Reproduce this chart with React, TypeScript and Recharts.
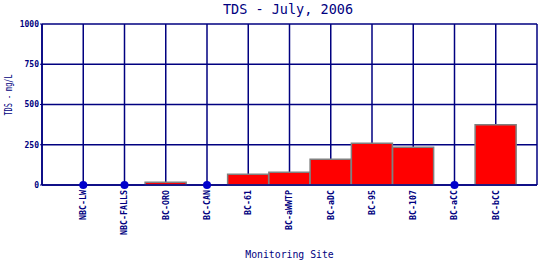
import React from 'react';
import { ComposedChart, Bar, Scatter, XAxis, YAxis, CartesianGrid, Label } from 'recharts';

const sites = ['NBC-LW', 'NBC-FALLS', 'BC-ORO', 'BC-CAN', 'BC-61', 'BC-aWWTP', 'BC-aDC', 'BC-95', 'BC-107', 'BC-aCC', 'BC-bCC'];
const tdsValues: (number | null)[] = [null, null, 17, null, 66, 79, 160, 259, 234, null, 375];
const nonDetects: (number | null)[] = [0, 0, null, 0, null, null, null, null, null, 0, null];
const yTicks = [0, 250, 500, 750, 1000];

const data = sites.map((s, i) => ({ site: s, tds: tdsValues[i], nd: nonDetects[i] }));

const NAVY = '#000080';
const FONT = '"DejaVu Sans Mono", monospace';

const XTick = (props: any) => {
  const { x, y, payload } = props;
  return (
    <text
      x={x}
      y={y}
      transform={`rotate(-90 ${x} ${y})`}
      textAnchor="end"
      dy="0.35em"
      fill={NAVY}
      fontFamily={FONT}
      fontSize={8.3}
      fontWeight="bold"
    >
      {payload.value}
    </text>
  );
};

const YLabel = () => (
  <text
    x={11.5}
    y={95}
    transform="rotate(-90 11.5 95)"
    textAnchor="middle"
    fill={NAVY}
    fontFamily={FONT}
    fontSize={11}
    textLength={41}
    lengthAdjust="spacingAndGlyphs"
  >
    TDS - mg/L
  </text>
);

const Dot = (props: any) => {
  const { cx, cy } = props;
  if (cx == null || cy == null) return null;
  return <circle cx={cx} cy={cy} r={4} fill="#0000CC" />;
};

export default function App() {
  return (
    <div style={{ position: 'absolute', left: 0, top: 0, width: 540, height: 260 }}>
      <div
        style={{
          position: 'absolute',
          left: 0,
          top: 1,
          width: 576,
          textAlign: 'center',
          fontFamily: FONT,
          fontSize: 13.5,
          color: NAVY,
          lineHeight: '16px',
        }}
      >
        TDS - July, 2006
      </div>
      <ComposedChart
        width={540}
        height={260}
        data={data}
        margin={{ top: 24, right: 3, bottom: 0, left: 2 }}
        barCategoryGap={0}
      >
        <CartesianGrid yAxisId="left" stroke={NAVY} strokeWidth={1.5} />
        <XAxis
          dataKey="site"
          type="category"
          padding={{ left: 20.625, right: 20.625 }}
          height={75}
          tickLine={false}
          tickSize={0}
          tickMargin={5}
          axisLine={{ stroke: NAVY, strokeWidth: 1.5 }}
          tick={<XTick />}
          interval={0}
        >
          <Label
            value="Monitoring Site"
            position="insideBottom"
            offset={2}
            fill={NAVY}
            fontFamily={FONT}
            fontSize={9.8}
          />
        </XAxis>
        <YAxis
          yAxisId="left"
          width={40}
          domain={[0, 1000]}
          ticks={yTicks}
          interval={0}
          tickSize={2}
          tickMargin={1}
          tickLine={{ stroke: NAVY }}
          axisLine={{ stroke: NAVY, strokeWidth: 1.5 }}
          tick={{ fill: NAVY, fontFamily: FONT, fontSize: 8, fontWeight: 'bold' }}
        >
          <Label content={<YLabel />} />
        </YAxis>
        <YAxis
          yAxisId="right"
          orientation="right"
          width={0}
          domain={[0, 1000]}
          tick={false}
          tickLine={false}
          axisLine={{ stroke: NAVY, strokeWidth: 1.5 }}
        />
        <Bar
          yAxisId="left"
          dataKey="tds"
          fill="#FF0000"
          stroke="#808080"
          strokeWidth={1.5}
          isAnimationActive={false}
        />
        <Scatter yAxisId="left" dataKey="nd" shape={<Dot />} isAnimationActive={false} />
      </ComposedChart>
    </div>
  );
}
